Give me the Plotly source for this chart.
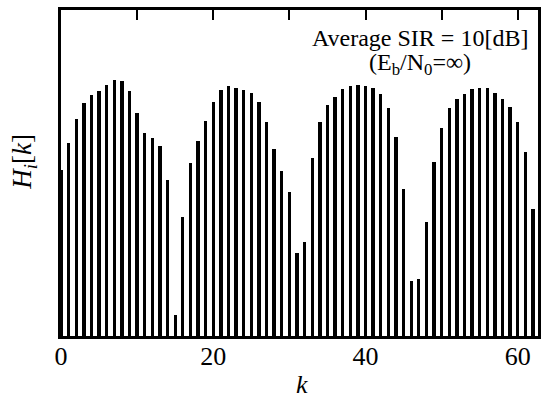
import plotly.graph_objects as go

# subcarrier index k (0..63)
k = list(range(64))
# H_i[k] amplitude (normalised)
H = [0.51, 0.591, 0.666, 0.716, 0.739, 0.752, 0.770, 0.785, 0.782, 0.752,
     0.683, 0.622, 0.607, 0.583, 0.479, 0.064, 0.366, 0.530, 0.599, 0.660,
     0.717, 0.755, 0.767, 0.760, 0.755, 0.744, 0.717, 0.657, 0.574, 0.507,
     0.443, 0.254, 0.289, 0.547, 0.656, 0.709, 0.734, 0.757, 0.767, 0.769,
     0.767, 0.760, 0.741, 0.698, 0.610, 0.450, 0.170, 0.174, 0.351, 0.535,
     0.637, 0.698, 0.726, 0.742, 0.757, 0.762, 0.760, 0.744, 0.726, 0.702,
     0.657, 0.565, 0.389, 0.20]

tick_vals = [0, 20, 40, 60]
tick_text = ["0", "20", "40", "60"]
top_tick_vals = [10, 20, 30, 40, 50, 60]

FONT = "Liberation Serif"
X_RANGE = [0, 62.66]

fig = go.Figure()
fig.add_trace(go.Bar(x=k, y=H, width=0.44, marker=dict(color="black", line=dict(width=0))))
# transparent twin on the top axis so that its ticks are drawn
fig.add_trace(go.Bar(x=k, y=H, width=0.44, xaxis="x2", hoverinfo="skip",
                     marker=dict(color="rgba(0,0,0,0)", line=dict(width=0))))

fig.update_layout(
    width=543, height=396,
    margin=dict(l=61, r=5, t=10, b=60, autoexpand=False),
    paper_bgcolor="white", plot_bgcolor="white",
    showlegend=False,
    font=dict(family=FONT, color="black"),
    bargap=0,
    xaxis=dict(
        range=X_RANGE, showgrid=False, zeroline=False, automargin=False,
        showline=True, linecolor="black", linewidth=2.5, mirror=True,
        ticks="inside", ticklen=9, tickwidth=2, tickcolor="black",
        tickvals=tick_vals, ticktext=tick_text, ticklabelstandoff=-5,
        tickfont=dict(family=FONT, size=26, color="black"),
    ),
    xaxis2=dict(
        overlaying="x", side="top", anchor="y", range=X_RANGE, automargin=False,
        showgrid=False, zeroline=False, showline=True, linecolor="black", linewidth=2.5,
        ticks="inside", ticklen=10, tickwidth=2, tickcolor="black",
        tickvals=top_tick_vals, showticklabels=False,
    ),
    yaxis=dict(
        range=[0, 1], showgrid=False, zeroline=False, automargin=False,
        showline=True, linecolor="black", linewidth=2.5, mirror=True,
        showticklabels=False, ticks="",
    ),
)
# axis titles
fig.add_annotation(
    xref="paper", yref="paper", x=0.506, y=-0.148, xanchor="center", yanchor="middle",
    text="<i>k</i>", showarrow=False,
    font=dict(family=FONT, size=26, color="black"),
)
fig.add_annotation(
    xref="paper", yref="paper", x=-0.078, y=0.534, xanchor="center", yanchor="middle",
    text="<i>H<sub>i</sub></i>[<i>k</i>]", showarrow=False, textangle=-90,
    font=dict(family=FONT, size=27, color="black"),
)
# text box
fig.add_annotation(
    xref="paper", yref="paper", x=0.753, y=0.915, xanchor="center", yanchor="middle",
    text="Average SIR = 10[dB]", showarrow=False,
    font=dict(family=FONT, size=24, color="black"),
)
fig.add_annotation(
    xref="paper", yref="paper", x=0.753, y=0.835, xanchor="center", yanchor="middle",
    text="(E<sub>b</sub>/N<sub>0</sub>=∞)", showarrow=False,
    font=dict(family=FONT, size=24, color="black"),
)

fig.write_html(
    "out.html",
    config={"displayModeBar": False},
    post_script="document.body.style.margin='0';document.body.style.overflow='hidden';",
)
